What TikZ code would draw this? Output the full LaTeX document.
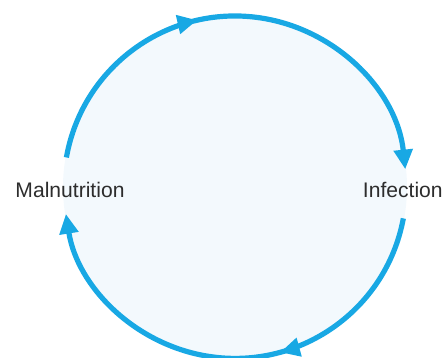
\documentclass[tikz,border=0pt]{standalone}
\usepackage{fontspec}
\setsansfont{Liberation Sans}
\usetikzlibrary{arrows.meta,decorations.markings}
\definecolor{cyclecol}{RGB}{24,168,228}
\definecolor{cyclefill}{RGB}{243,249,253}
\definecolor{labelcol}{RGB}{45,45,45}

\begin{document}
\begin{tikzpicture}[scale=1.0,
  cyclearc/.style={line width=3.7pt, draw=cyclecol, -{Triangle[length=14pt,width=13pt]},
    postaction={decorate},
    decoration={markings, mark=at position #1 with {\arrow[cyclecol]{Triangle[length=14pt,width=13pt]}}}},
  cyclelabel/.style={font=\sffamily\fontsize{15}{18}\selectfont, text=labelcol, inner sep=1pt}]
  % vicious cycle: malnutrition <-> infection
  \useasboundingbox (0,0) rectangle (11.05,8.95);
  \coordinate (ctr) at (5.875,4.27);
  \fill[cyclefill] (ctr) circle[radius=4.3];
  \node[cyclelabel] (mal) at (1.75,4.2) {Malnutrition};
  \node[cyclelabel] (inf) at (10.07,4.2) {Infection};
  \path (ctr) ++(170:4.28) coordinate (malout);
  \path (ctr) ++(-10.5:4.28) coordinate (infout);
  \draw[cyclearc=0.41] (malout) arc[start angle=170, end angle=6, radius=4.28];
  \draw[cyclearc=0.40] (infout) arc[start angle=-10.5, end angle=-171, radius=4.28];
\end{tikzpicture}
\end{document}
